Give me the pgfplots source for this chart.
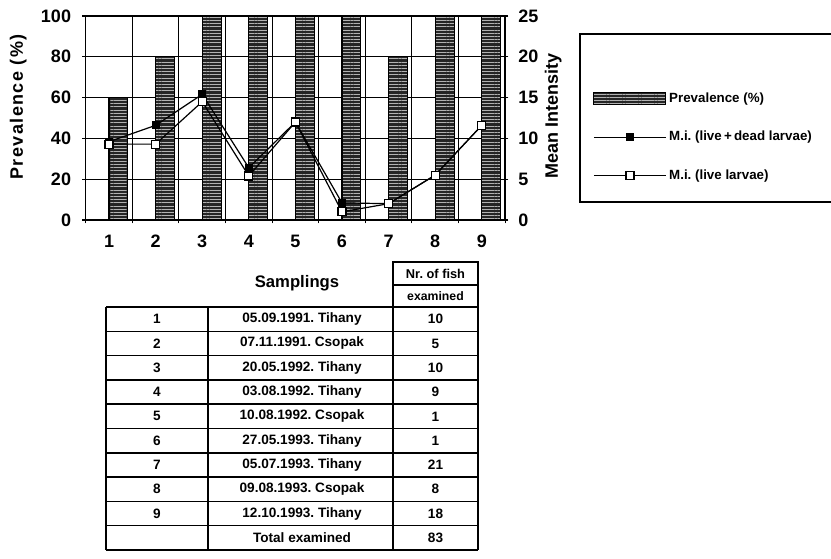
\documentclass[border=0pt]{standalone}
\usepackage{fontspec}
\setmainfont{Liberation Sans}
\newfontfamily\widesans[LetterSpace=8]{Liberation Sans}
\usepackage{pgfplots}
\pgfplotsset{compat=1.18}
\usetikzlibrary{patterns.meta}
\definecolor{barfill}{gray}{0.15}
\tikzset{barpat/.style={draw=black, line width=0.8pt, fill=barfill,
  postaction={pattern={Lines[angle=0,distance=2.4pt,line width=0.6pt]}, pattern color=white!70!black}}}
\newcommand{\tickfont}{\fontsize{13.5}{15}\selectfont\bfseries}
\newcommand{\labfont}{\fontsize{13.5}{15}\selectfont\bfseries}
\newcommand{\legfont}{\fontsize{10}{12}\selectfont\bfseries}
\newcommand{\tabfont}{\fontsize{10.2}{12}\selectfont\bfseries}
\frenchspacing
\begin{document}
\frenchspacing
\begin{tikzpicture}
\useasboundingbox (0,0) rectangle (623.25pt,418.5pt);
\begin{axis}[
  at={(64.3pt,253.5pt)}, anchor=south west,
  width=314.5pt, height=153pt, scale only axis,
  xmin=0.5, xmax=9.5, ymin=0, ymax=100,
  xtick={1,...,9}, xtick pos=bottom,
  major x tick style={draw=none},
  minor xtick={0.5,1.5,...,9.5}, xminorgrids,
  ytick={0,20,...,100}, ytick pos=left, ymajorgrids,
  grid style={black, line width=0.7pt},
  minor grid style={black, line width=0.7pt},
  axis line style={black, line width=0.9pt},
  tick style={black, line width=0.8pt},
  tick align=center, major tick length=5pt, minor tick length=5pt,
  ticklabel style={font=\tickfont},
  /pgf/number format/assume math mode=true,
  xticklabel style={yshift=-5pt},
  yticklabel style={xshift=-5pt},
  ylabel={\widesans\bfseries Prevalence (\%)},
  ylabel style={font=\labfont, at={(axis description cs:-0.161,0.554)}, anchor=center},
]
\addplot[ybar, bar width=14.2pt, bar shift=7.1pt, barpat] coordinates {
  (1,60) (2,80) (3,100) (4,100) (5,100) (6,100) (7,80) (8,100) (9,100)};
\end{axis}
\begin{axis}[
  at={(64.3pt,253.5pt)}, anchor=south west,
  width=314.5pt, height=153pt, scale only axis,
  xmin=0.5, xmax=9.5, ymin=0, ymax=25,
  axis x line=none, axis y line*=right,
  ytick={0,5,...,25},
  axis line style={black, line width=0.9pt},
  tick style={black, line width=0.8pt},
  tick align=center, major tick length=5pt,
  ticklabel style={font=\tickfont},
  /pgf/number format/assume math mode=true,
  yticklabel style={xshift=4pt},
  ylabel={Mean Intensity},
  ylabel style={font=\labfont, at={(axis description cs:1.115,0.51)}, anchor=center, rotate=0},
  legend image code/.code={\draw[mark repeat=2,mark phase=2,#1] plot coordinates {(0pt,0pt) (27pt,0pt) (54pt,0pt)};},
  legend cell align=left,
  legend style={draw=none, fill=none, at={(axis description cs:1.2099,0.637)}, anchor=north west,
    inner sep=0pt, row sep=16pt, font=\legfont},
]
\addlegendimage{legend image code/.code={\draw[barpat] (0pt,-4.5pt) rectangle (54pt,4.5pt);}}
\addlegendentry{Prevalence (\%)}
\addplot[black, line width=0.9pt, mark=square*, mark size=2.6pt, mark options={fill=black, solid}] coordinates {
  (1,9.6) (2,11.6) (3,15.4) (4,6.4) (5,12.0) (6,2.1) (7,2.0) (8,5.5) (9,11.6)};
\addlegendentry{M.i.\ (live\,+\,dead larvae)}
\addplot[black, line width=0.9pt, mark=square*, mark size=3pt, mark options={fill=white, solid}] coordinates {
  (1,9.3) (2,9.3) (3,14.5) (4,5.4) (5,12.0) (6,1.0) (7,2.0) (8,5.5) (9,11.6)};
\addlegendentry{M.i.\ (live larvae)}
\end{axis}
\begin{scope}[x=0.75pt, y=-0.75pt, yshift=418.5pt]
  % legend frame
  \draw[line width=1pt] (840,34) -- (580,34) -- (580,202) -- (840,202);
  % header
  \node[font=\fontsize{12.5}{14}\selectfont\bfseries] at (297,283) {Samplings};
  \draw[line width=1.1pt] (393,262) rectangle (478,307);
  \draw[line width=1.1pt] (393,285) -- (478,285);
  \node[font=\fontsize{9.6}{11}\selectfont\bfseries] at (435.5,274) {Nr.\ of fish};
  \node[font=\fontsize{9.2}{11}\selectfont\bfseries] at (435.5,296.5) {examined};
  % table grid
  \foreach \k in {0,...,10} {\draw[line width=1.1pt] (106,{307+24.3*\k}) -- (478,{307+24.3*\k});}
  \foreach \xx in {106,208,393,478} {\draw[line width=1.1pt] (\xx,307) -- (\xx,550);}
  \foreach \n/\d/\f [count=\i] in {1/05.09.1991. Tihany/10, 2/07.11.1991. Csopak/5, 3/20.05.1992. Tihany/10,
      4/03.08.1992. Tihany/9, 5/10.08.1992. Csopak/1, 6/27.05.1993. Tihany/1, 7/05.07.1993. Tihany/21,
      8/09.08.1993. Csopak/8, 9/12.10.1993. Tihany/18} {
    \node[font=\tabfont] at (157,{307+24.3*(\i-0.5)}) {\n};
    \node[font=\tabfont] at (302,{307+24.3*(\i-0.5)}) {\d};
    \node[font=\tabfont] at (435.5,{307+24.3*(\i-0.5)}) {\f};
  }
  \node[font=\tabfont] at (302,{307+24.3*9.5}) {Total examined};
  \node[font=\tabfont] at (435.5,{307+24.3*9.5}) {83};
\end{scope}
\end{tikzpicture}
\end{document}
